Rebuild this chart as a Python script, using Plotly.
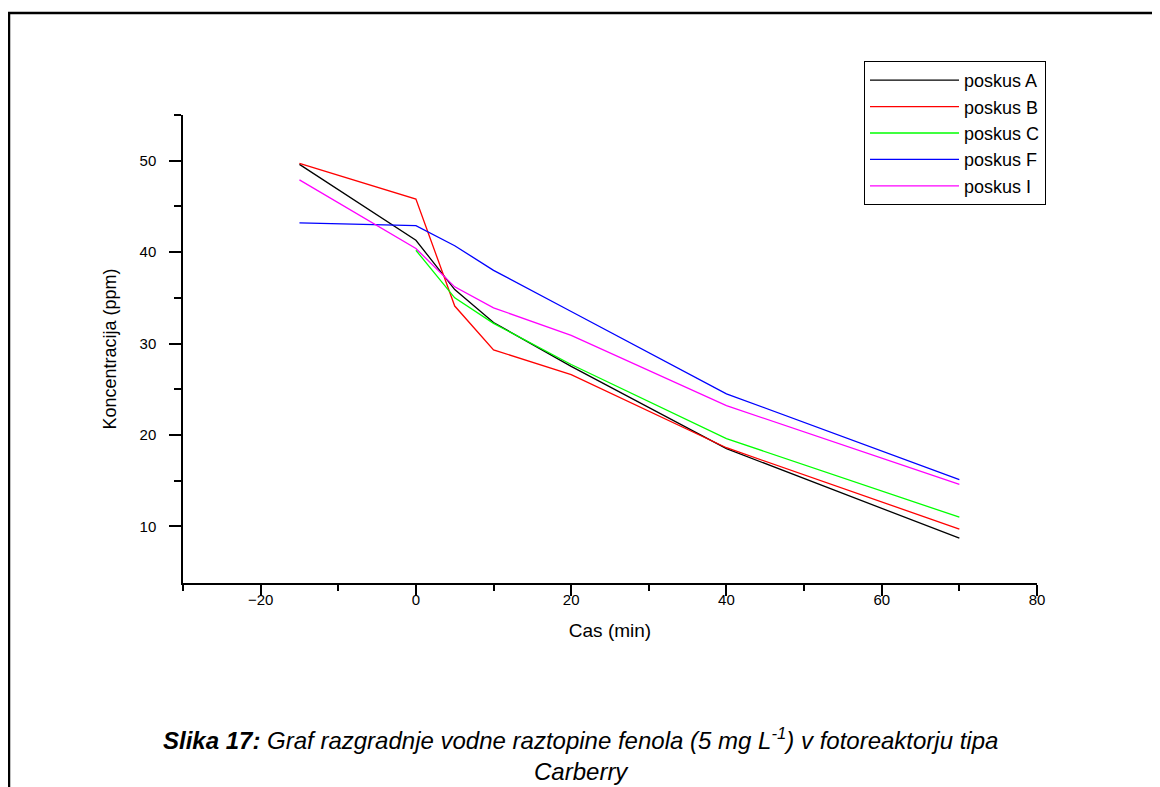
import plotly.graph_objects as go

# ---- data ----
time_min = [-15, 0, 5, 10, 20, 40, 70]
time_min_c = [0, 5, 10, 20, 40, 70]
poskus_A = [49.6, 41.3, 35.9, 32.3, 27.5, 18.5, 8.7]
poskus_B = [49.7, 45.8, 34.1, 29.3, 26.6, 18.6, 9.7]
poskus_C = [40.2, 35.0, 32.2, 27.7, 19.6, 11.0]
poskus_F = [43.2, 42.9, 40.7, 38.0, 33.5, 24.5, 15.1]
poskus_I = [47.9, 40.4, 36.2, 33.9, 30.9, 23.2, 14.6]

series = [
    ("poskus A", time_min, poskus_A, "#000000"),
    ("poskus B", time_min, poskus_B, "#ff0000"),
    ("poskus C", time_min_c, poskus_C, "#00ff00"),
    ("poskus F", time_min, poskus_F, "#0000ff"),
    ("poskus I", time_min, poskus_I, "#ff00ff"),
]

OFF = 8  # page body margin
W, H = 1160 - OFF, 787 - OFF
L, R, T, B = 183 - OFF, 1160 - 1037, 115 - OFF, 787 - 583
pw, ph = W - L - R, H - T - B


def px(x):
    # page pixel x -> paper
    return (x - OFF - L) / pw


def py(y):
    # page pixel y -> paper
    return (H - B - (y - OFF)) / ph


fig = go.Figure()
for name, xs, ys, col in series:
    fig.add_trace(go.Scatter(x=xs, y=ys, mode="lines", name=name,
                             line=dict(color=col, width=1.3)))

axis_font = dict(family="Liberation Sans, Arial", size=15, color="black")

fig.update_layout(
    width=W, height=H,
    margin=dict(l=L, r=R, t=T, b=B),
    paper_bgcolor="white", plot_bgcolor="white",
    showlegend=True,
    legend=dict(x=px(864), y=py(61), xanchor="left", yanchor="top",
                bordercolor="black", borderwidth=1, bgcolor="white",
                itemwidth=89,
                font=dict(family="Liberation Sans, Arial", size=18, color="black")),
    xaxis=dict(range=[-30, 80], showgrid=False, zeroline=False,
               showline=True, linecolor="black", linewidth=1.5,
               ticks="outside", ticklen=11, tickwidth=1.5, tickcolor="black",
               tick0=0, dtick=20, tickfont=axis_font, ticklabelstandoff=-9,
               minor=dict(tickvals=[-30, -10, 10, 30, 50, 70], ticks="outside",
                          ticklen=6, tickwidth=1.5, tickcolor="black", showgrid=False),
               title=dict(text="Cas (min)", standoff=17,
                          font=dict(family="Liberation Sans, Arial", size=19, color="black"))),
    yaxis=dict(range=[3.8, 55], showgrid=False, zeroline=False,
               showline=True, linecolor="black", linewidth=1.5,
               ticks="outside", ticklen=12, tickwidth=1.5, tickcolor="black",
               tick0=0, dtick=10, tickfont=axis_font, ticklabelstandoff=10,
               minor=dict(tickvals=[15, 25, 35, 45, 55], ticks="outside",
                          ticklen=7, tickwidth=1.5, tickcolor="black", showgrid=False),
               title=dict(text="Koncentracija (ppm)", standoff=18,
                          font=dict(family="Liberation Sans, Arial", size=18, color="black"))),
)

# open page frame (left and top edges)
fig.add_shape(type="path", xref="paper", yref="paper",
              path=f"M {px(9)} {py(800)} L {px(9)} {py(13)} L {px(1170)} {py(13)}",
              line=dict(color="black", width=2.5))

cap_font = dict(family="Liberation Sans, Arial", size=24, color="black")
fig.add_annotation(xref="paper", yref="paper", x=px(580), y=py(787), showarrow=False,
                   xanchor="center", yanchor="bottom", font=cap_font,
                   text="<b><i>Slika 17:</i></b><i> Graf razgradnje vodne raztopine fenola (5 mg L<sup>-1</sup>) v fotoreaktorju tipa</i>"
                        "<br><i>Carberry</i>")

fig.write_html("out.html")
